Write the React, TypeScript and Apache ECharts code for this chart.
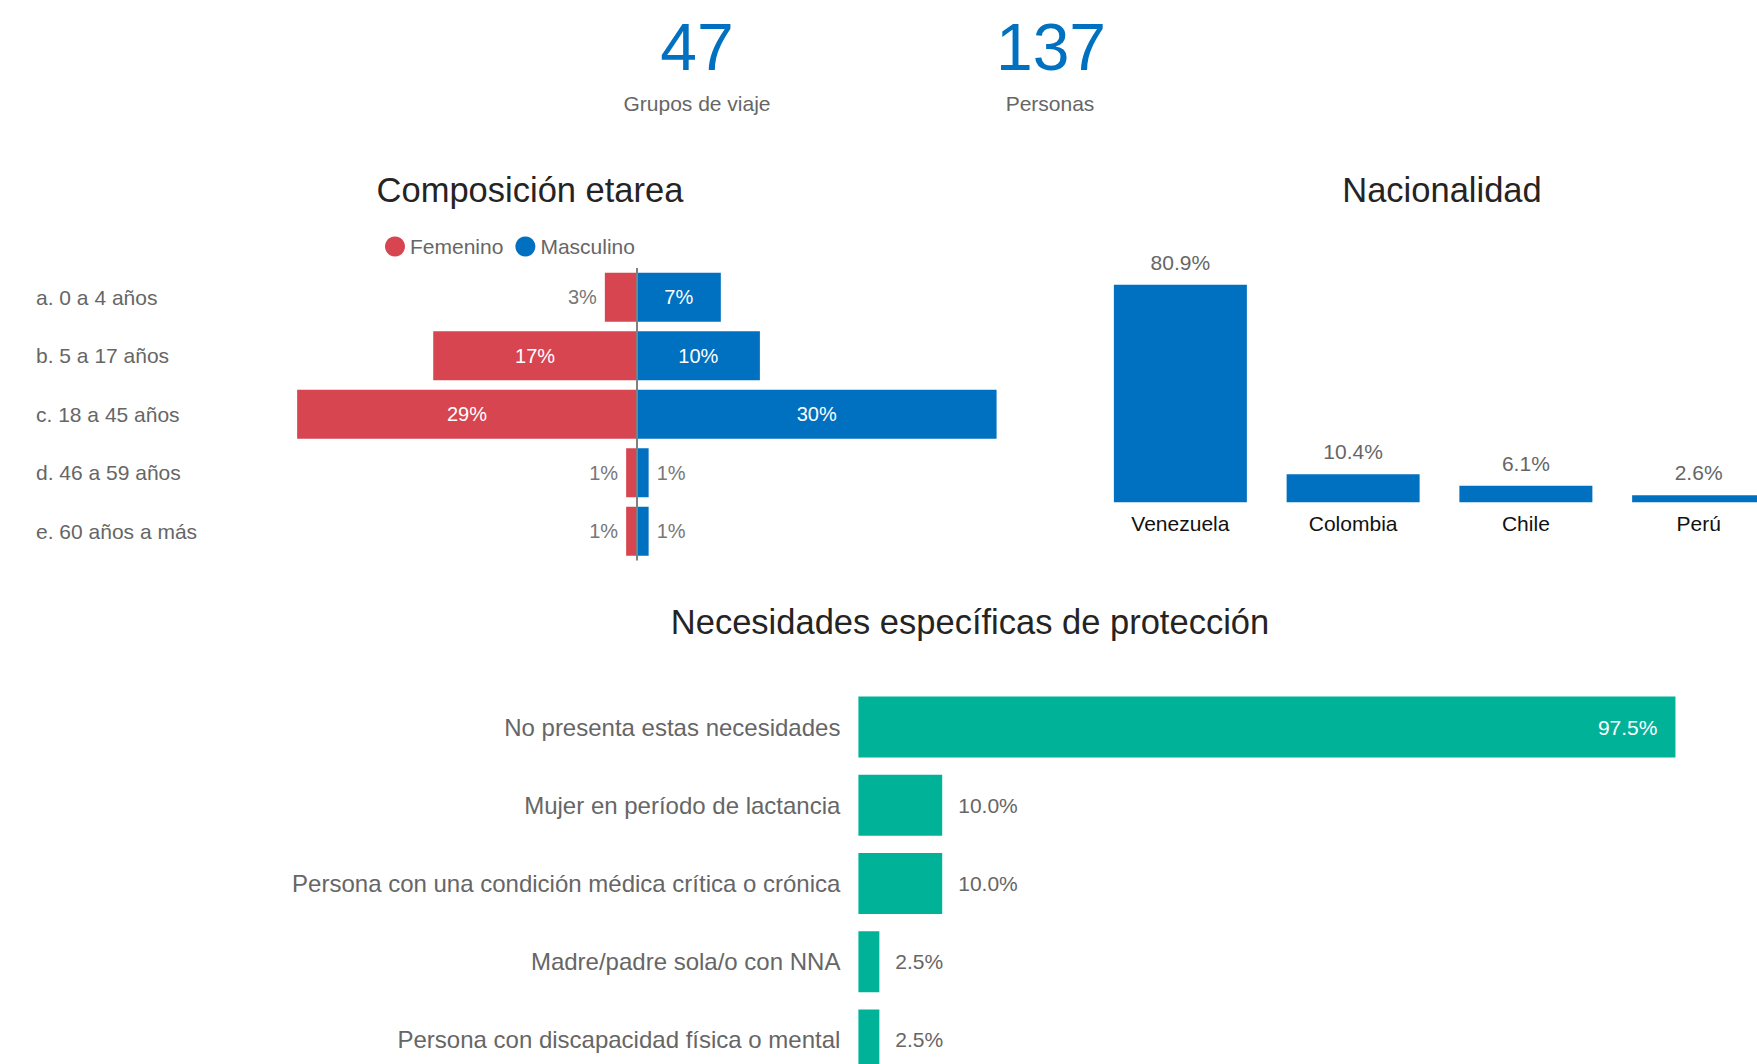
import React, { useEffect, useRef } from "react";
import * as echarts from "echarts";

// ---------- data ----------
const kpiValues = ["47", "137"];
const kpiLabels = ["Grupos de viaje", "Personas"];

const ageGroups = [
  "a. 0 a 4 años",
  "b. 5 a 17 años",
  "c. 18 a 45 años",
  "d. 46 a 59 años",
  "e. 60 años a más",
];
const femenino = [2.7, 17.2, 28.7, 0.9, 0.9];
const masculino = [7.1, 10.4, 30.4, 1.0, 1.0];

const countries = ["Venezuela", "Colombia", "Chile", "Perú"];
const nationality = [80.9, 10.4, 6.1, 2.6];

const needs = [
  "No presenta estas necesidades",
  "Mujer en período de lactancia",
  "Persona con una condición médica crítica o crónica",
  "Madre/padre sola/o con NNA",
  "Persona con discapacidad física o mental",
];
const needsValues = [97.5, 10.0, 10.0, 2.5, 2.5];

const titles = ["Composición etarea", "Nacionalidad", "Necesidades específicas de protección"];

// ---------- styles ----------
const FONT = '"Liberation Sans", Arial, sans-serif';
const BLUE = "#0070C0";
const RED = "#D64550";
const TEAL = "#00B398";
const GREY = "#666666";
const DARK = "#252423";

function buildOption(): any {
  const pctInt = (p: any) => Math.round(Math.abs(p.value)) + "%";
  const pct1 = (p: any) => Number(p.value).toFixed(1) + "%";

  const femData = femenino.map((v) => ({
    value: -v,
    label:
      v >= 5
        ? { position: "inside", color: "#fff" }
        : { position: "left", color: "#777", distance: 8 },
  }));
  const masData = masculino.map((v) => ({
    value: v,
    label:
      v >= 5
        ? { position: "inside", color: "#fff" }
        : { position: "right", color: "#777", distance: 8 },
  }));
  const needsData = needsValues.map((v) => ({
    value: v,
    label:
      v > 50
        ? { position: "insideRight", color: "#fff", distance: 18 }
        : { position: "right", color: GREY, distance: 16 },
  }));

  const text = (t: string, x: number, y: number, size: number, color: string) => ({
    type: "text",
    x,
    y,
    silent: true,
    style: {
      text: t,
      fill: color,
      font: `${size}px ${FONT}`,
      textAlign: "center",
      textVerticalAlign: "middle",
    },
  });

  return {
    animation: false,
    backgroundColor: "#fff",
    textStyle: { fontFamily: FONT },
    graphic: [
      text(kpiValues[0], 697, 47, 66, BLUE),
      text(kpiLabels[0], 697, 103, 21, GREY),
      text(kpiValues[1], 1051, 47, 66, BLUE),
      text(kpiLabels[1], 1050, 103, 21, GREY),
      text(titles[0], 530, 190, 34.5, DARK),
      text(titles[1], 1442, 190, 34.5, DARK),
      text(titles[2], 970, 622, 34.5, DARK),
    ],
    legend: {
      data: ["Femenino", "Masculino"],
      icon: "circle",
      left: 380,
      top: 231,
      itemWidth: 20,
      itemHeight: 20,
      itemGap: 12,
      textStyle: { color: GREY, fontSize: 21, fontFamily: FONT },
    },
    grid: [
      { left: 264, top: 268, width: 745.6, height: 292.5 },
      { left: 1094, top: 233.5, width: 691, height: 268.7 },
      { left: 858.4, top: 688, width: 838, height: 391 },
    ],
    xAxis: [
      { gridIndex: 0, type: "value", min: -31.5, max: 31.5, show: false },
      {
        gridIndex: 1,
        type: "category",
        data: countries,
        axisLine: { show: false },
        axisTick: { show: false },
        axisLabel: { color: "#111", fontSize: 21, margin: 11 },
      },
      { gridIndex: 2, type: "value", min: 0, max: 100, show: false },
    ],
    yAxis: [
      {
        gridIndex: 0,
        type: "category",
        data: ageGroups,
        inverse: true,
        axisLine: { show: false, onZero: false },
        axisTick: { show: false },
        splitLine: { show: false },
        axisLabel: {
          align: "left",
          margin: 228,
          color: GREY,
          fontSize: 21,
          padding: [12, 0, 0, 0],
        },
      },
      { gridIndex: 1, type: "value", min: 0, max: 100, show: false },
      {
        gridIndex: 2,
        type: "category",
        data: needs,
        inverse: true,
        axisLine: { show: false },
        axisTick: { show: false },
        axisLabel: { color: GREY, fontSize: 24, margin: 18 },
      },
    ],
    series: [
      {
        name: "Femenino",
        type: "bar",
        xAxisIndex: 0,
        yAxisIndex: 0,
        barWidth: 49,
        barGap: "-100%",
        itemStyle: { color: RED },
        label: { show: true, formatter: pctInt, fontSize: 20 },
        data: femData,
      },
      {
        name: "Masculino",
        type: "bar",
        xAxisIndex: 0,
        yAxisIndex: 0,
        barWidth: 49,
        barGap: "-100%",
        itemStyle: { color: BLUE },
        label: { show: true, formatter: pctInt, fontSize: 20 },
        data: masData,
        markLine: {
          silent: true,
          symbol: ["none", "none"],
          label: { show: false },
          lineStyle: { color: "#808080", width: 2, type: "solid" },
          data: [{ xAxis: 0 }],
        },
      },
      {
        name: "Nacionalidad",
        type: "bar",
        xAxisIndex: 1,
        yAxisIndex: 1,
        barWidth: 133,
        itemStyle: { color: BLUE },
        label: {
          show: true,
          position: "top",
          distance: 12,
          color: GREY,
          fontSize: 21,
          formatter: pct1,
        },
        data: nationality,
      },
      {
        name: "Necesidades",
        type: "bar",
        xAxisIndex: 2,
        yAxisIndex: 2,
        barWidth: 61,
        itemStyle: { color: TEAL },
        label: { show: true, fontSize: 21, formatter: pct1 },
        data: needsData,
      },
    ],
  };
}

export default function App() {
  const ref = useRef<HTMLDivElement>(null);
  useEffect(() => {
    if (!ref.current) return;
    const chart = echarts.init(ref.current, null, { renderer: "svg" });
    chart.setOption(buildOption());
    return () => chart.dispose();
  }, []);
  return (
    <div
      style={{
        position: "fixed",
        left: 0,
        top: 0,
        width: 1757,
        height: 1064,
        overflow: "hidden",
        background: "#fff",
      }}
    >
      <div ref={ref} style={{ width: 1800, height: 1100 }} />
    </div>
  );
}
